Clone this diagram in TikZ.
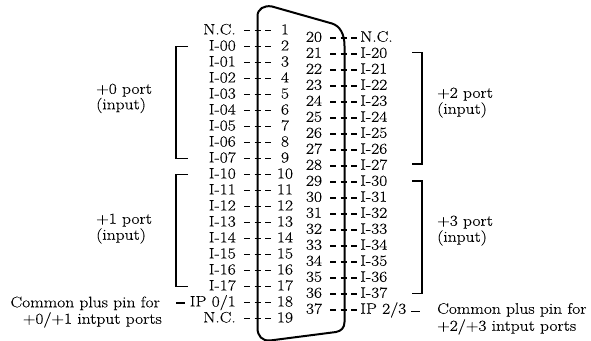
\documentclass[tikz,border=0pt]{standalone}
\usepackage{fontspec}
\setmainfont{Latin Modern Roman}[FakeStretch=1.15,FakeBold=0.25]
\begin{document}
\begin{tikzpicture}[x=1pt,y=-1pt,
  lbl/.style={inner sep=0pt,font=\fontsize{15.2}{16}\selectfont,text height=9.5pt,text depth=2pt},
  namel/.style={lbl,anchor=east},
  namer/.style={lbl,anchor=west},
  pinl/.style={lbl,minimum width=16pt},
  pinr/.style={lbl,minimum width=17pt},
  conn/.style={line width=1.1pt,dash pattern=on 6pt off 4.5pt},
  brk/.style={line width=1.4pt},
  outline/.style={line width=2pt}]
\useasboundingbox (0,0) rectangle (591,340);
\draw[outline] (257.5,30) -- (257.5,16) .. controls (257.5,9) and (264,5) .. (272,6.5)
  -- (332,23.5) .. controls (340,26) and (344.5,34) .. (344.5,46)
  -- (344.5,322) .. controls (344.5,328) and (341,331) .. (336,332)
  -- (270,340.5) .. controls (262,341) and (257.5,336) .. (257.5,328) -- cycle;
\foreach \n/\t [count=\i from 0] in {1/N.C.,2/I-00,3/I-01,4/I-02,5/I-03,6/I-04,7/I-05,8/I-06,9/I-07,10/I-10,11/I-11,12/I-12,13/I-13,14/I-14,15/I-15,16/I-16,17/I-17,18/{IP 0/1},19/N.C.}{
  \pgfmathsetmacro{\yy}{30.7+16*\i}
  \node[namel] (n\n) at (236,\yy) {\t};
  \node[pinl] (p\n) at (285,\yy) {\n};
  \draw[conn] ([xshift=8pt]n\n.east) -- ([xshift=-6pt]p\n.west);
}
\foreach \n/\t [count=\i from 0] in {20/N.C.,21/I-20,22/I-21,23/I-22,24/I-23,25/I-24,26/I-25,27/I-26,28/I-27,29/I-30,30/I-31,31/I-32,32/I-33,33/I-34,34/I-35,35/I-36,36/I-37,37/{IP 2/3}}{
  \pgfmathsetmacro{\yy}{38+16*\i}
  \node[pinr] (p\n) at (314,\yy) {\n};
  \node[namer] (n\n) at (360,\yy) {\t};
  \draw[conn] ([xshift=7.5pt]p\n.east) -- ([xshift=-3pt]n\n.west);
}
\draw[brk] (188,46.5) -| (176,158.7) -- (188,158.7);
\draw[brk] (188,174.7) -| (176,286.7) -- (188,286.7);
\draw[brk] (412,52.5) -| (422,164) -- (412,164);
\draw[brk] (412,181) -| (422,293.5) -- (412,293.5);
\node[lbl,anchor=west] (a) at (96,90) {+0 port};
\node[lbl,anchor=west] (b) at (96,105.5) {(input)};
\node[lbl,anchor=west] (c) at (96,220) {+1 port};
\node[lbl,anchor=west] (d) at (96,236) {(input)};
\node[lbl,anchor=west] (e) at (437,94) {+2 port};
\node[lbl,anchor=west] (f) at (437,110) {(input)};
\node[lbl,anchor=west] (g) at (437,222) {+3 port};
\node[lbl,anchor=west] (h) at (437,238) {(input)};
\node[lbl,anchor=east] (i) at (160,303.5) {Common plus pin for};
\node[lbl,anchor=east] (j) at (162,320) {+0/+1 intput ports};
\node[lbl,anchor=west] (k) at (437,310) {Common plus pin for};
\node[lbl,anchor=west] (l) at (437,327) {+2/+3 intput ports};
\coordinate (ca) at (176,303); \coordinate (cb) at (185,303);
\coordinate (cc) at (411,311.5); \coordinate (cd) at (420,311.5);
\draw[brk] (ca) -- (cb);
\draw[brk] (cc) -- (cd);
\end{tikzpicture}
\end{document}
